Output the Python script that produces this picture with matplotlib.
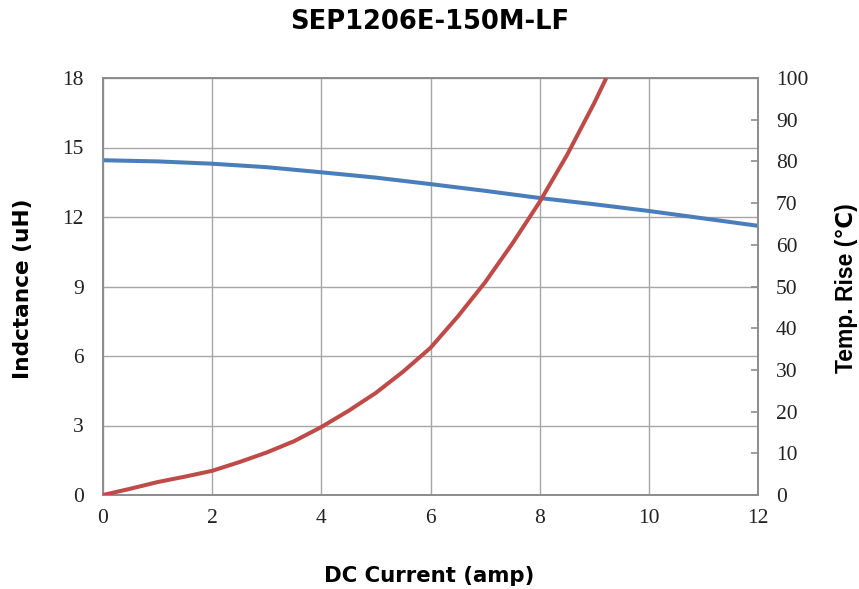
import matplotlib
matplotlib.use('Agg')
import matplotlib.pyplot as plt

title = 'SEP1206E-150M-LF'

# inductance vs DC current
cur_l = [0, 1, 2, 3, 4, 5, 6, 7, 8, 9, 10, 11, 12]
ind = [14.45, 14.4, 14.3, 14.15, 13.93, 13.7, 13.42, 13.13, 12.82, 12.55, 12.26, 11.94, 11.62]

# temperature rise vs DC current
cur_t = [0, 0.5, 1, 1.5, 2, 2.5, 3, 3.5, 4, 4.5, 5, 5.5, 6, 6.5, 7, 7.5, 8, 8.5, 9, 9.22]
temp = [0, 1.5, 3.1, 4.4, 5.8, 7.9, 10.2, 12.9, 16.3, 20.2, 24.5, 29.6, 35.3, 42.8, 51.0, 60.3, 70.3, 81.5, 94.0, 100]

xticks = [0, 2, 4, 6, 8, 10, 12]
lticks = [0, 3, 6, 9, 12, 15, 18]
rticks = list(range(0, 101, 10))

grid_c = '#a6a6a6'
spine_c = '#8c8c8c'
serif = ['Liberation Serif', 'DejaVu Serif']
sans = ['DejaVu Sans']
arial = ['Liberation Sans', 'DejaVu Sans']

fig = plt.figure(figsize=(8.59, 5.89), dpi=100)
ax = fig.add_axes([103/859, 94/589, 655/859, 417/589])
ax2 = ax.twinx()

ax.set_xlim(0, 12)
ax.set_ylim(0, 18)
ax2.set_ylim(0, 100)
ax.set_xticks(xticks)
ax.set_yticks(lticks)
ax2.set_yticks(rticks)
ax.grid(True, color=grid_c, lw=1.0)
ax.set_axisbelow(True)

ax.plot(cur_l, ind, color='#4a7ebb', lw=2.9, solid_capstyle='butt', zorder=3)
ax2.plot(cur_t, temp, color='#be4b48', lw=2.9, solid_capstyle='butt', zorder=3)

for a in (ax, ax2):
  for s in a.spines.values():
    s.set_color(spine_c)
    s.set_linewidth(1.2)

ax.tick_params(axis='both', length=0, labelsize=15.5, colors='#222222')
ax.tick_params(axis='y', pad=14)
ax.tick_params(axis='x', pad=10)
ax2.tick_params(axis='y', direction='in', length=5, color=spine_c, width=1.2,
                labelsize=15.5, pad=13, labelcolor='#222222')
for lab in ax.get_xticklabels() + ax.get_yticklabels() + ax2.get_yticklabels():
  lab.set_family(serif)

fig.text(0.5, 1 - 22/589, title, ha='center', va='center', fontsize=18.5,
         fontweight='bold', family=sans)
fig.text(0.5, 1 - 576/589, 'DC Current (amp)', ha='center', va='center', fontsize=15.3,
         fontweight='bold', family=sans)
fig.text(23/859, 1 - 289/589, 'Indctance (uH)', rotation=90, ha='center', va='center',
         fontsize=15.6, fontweight='bold', family=sans)
fig.text(846/859, 1 - 288/589, 'Temp. Rise (\u2103)', rotation=90, ha='center', va='center',
         fontsize=16.5, fontweight='bold', family=arial)

fig.savefig('out.png', dpi=100)
